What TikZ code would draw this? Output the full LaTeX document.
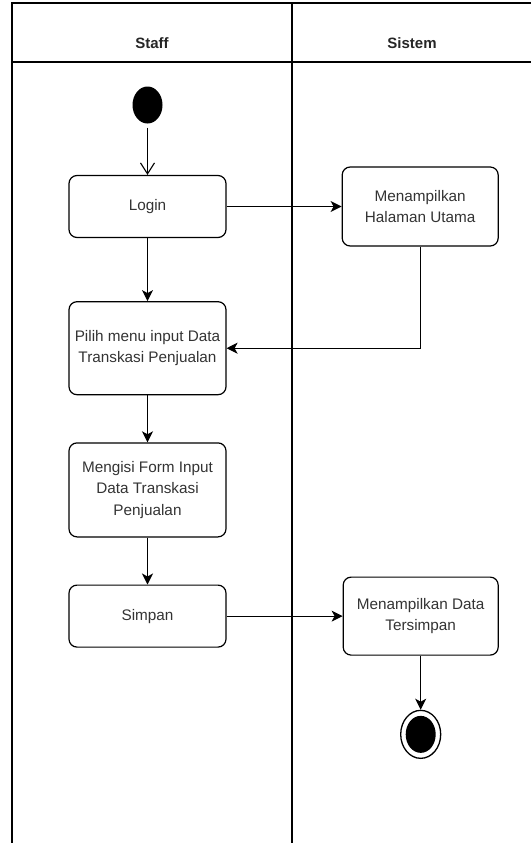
\documentclass[tikz,border=0pt]{standalone}
\usepackage{fontspec}
\setmainfont{Liberation Sans}
\usetikzlibrary{arrows.meta,positioning,shapes.geometric}
\tikzset{
    %Define standard arrow tip
    >={Stealth[length=11pt,width=11pt,inset=3pt]},
    %Define style for activity boxes
    aktivitas/.style={
           rectangle,
           rounded corners=8pt,
           draw=black, line width=1.2pt,
           minimum width=157pt,
           align=center,
           text=black!80,
           font=\fontsize{15.3}{21.5}\selectfont},
    %Define style for start and end
    awal/.style={
           ellipse,
           fill=black,
           minimum width=30pt,
           minimum height=37pt,
           inner sep=0pt},
    akhir/.style={
           ellipse,
           draw=black, line width=1.3pt,
           minimum width=40pt,
           minimum height=48pt,
           inner sep=0pt},
    % Define arrow style
    panah/.style={
           ->,
           line width=1.1pt},
    judul/.style={
           font=\fontsize{15}{17}\selectfont\bfseries,
           text=black!85}
}

\begin{document}
\begin{tikzpicture}[x=1pt,y=-1pt]
\useasboundingbox (0,0) rectangle (531,843);

 %swimlanes
\draw[line width=1.4pt] (12,843) -- (12,3) -- (531,3);
\draw[line width=1.4pt] (12,62) -- (531,62);
\draw[line width=1.4pt] (292,3) -- (292,843);
\node[judul] (staff) at (152,43) {Staff};
\node[judul] (sistem) at (412,43) {Sistem};

 %nodes
\node[awal] (mulai) at (147.5,105) {};
\node[aktivitas, minimum height=62pt] (login) at (147.5,206.5) {Login};
\node[aktivitas, minimum height=93pt, below=63pt of login] (pilih) {Pilih menu input Data\\Transkasi Penjualan};
\node[aktivitas, minimum height=94pt, below=47pt of pilih] (isi) {Mengisi Form Input\\Data Transkasi\\Penjualan};
\node[aktivitas, minimum height=62pt, below=47pt of isi] (simpan) {Simpan};
\node[aktivitas, minimum width=156pt, minimum height=79pt, right=115pt of login] (halaman) {Menampilkan\\Halaman Utama};
\node[aktivitas, minimum width=155pt, minimum height=78pt, right=116pt of simpan] (tersimpan) {Menampilkan Data\\Tersimpan};
\node[akhir, below=54pt of tersimpan] (selesai) {};
\node[awal] (selesaiisi) at (selesai) {};

 %edges
\draw[line width=1.1pt, shorten <=4pt, -{Straight Barb[length=11pt,width=14pt]}] (mulai) -- (login);
\path[panah]
    (login) edge (halaman)
    (login) edge (pilih)
    (pilih) edge (isi)
    (isi) edge (simpan)
    (simpan) edge (tersimpan)
    (tersimpan) edge (selesai);
\draw[panah] (halaman.south) |- (pilih.east);

\end{tikzpicture}
\end{document}
